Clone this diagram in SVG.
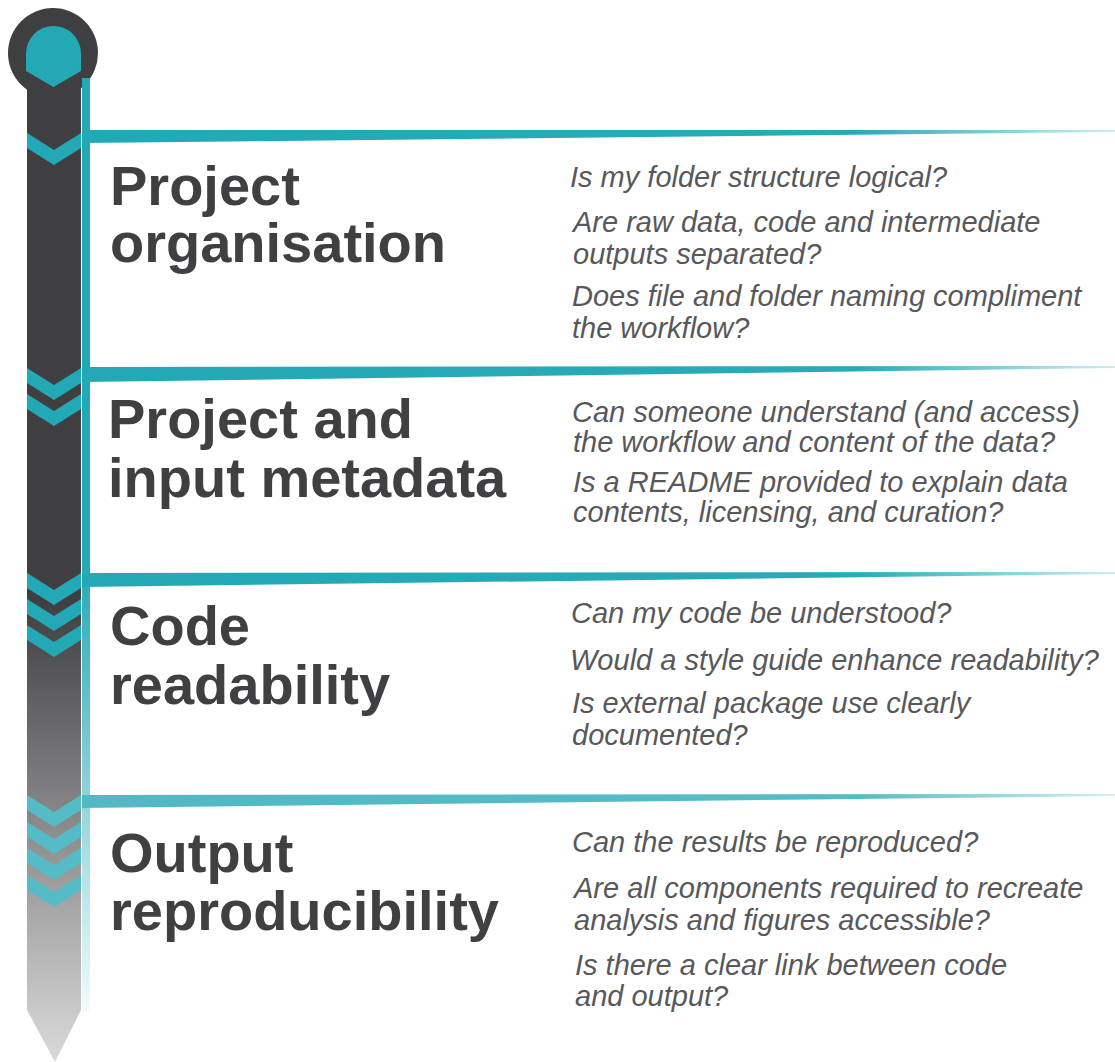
<svg xmlns="http://www.w3.org/2000/svg" width="1115" height="1062" viewBox="0 0 1115 1062">
<style>
.h{font-family:"Liberation Sans",Arial,sans-serif;font-weight:bold;font-size:56px;fill:#404043}
.q{font-family:"Liberation Sans",Arial,sans-serif;font-style:italic;font-size:29px;fill:#58585b}
.chev{fill:#23a8b5}
.chev4{fill:#55bbc6}
</style>
<defs>
<linearGradient id="shaft" gradientUnits="userSpaceOnUse" x1="0" y1="600" x2="0" y2="1062">
<stop offset="0" stop-color="#3f3f42"/>
<stop offset="1" stop-color="#dadada"/>
</linearGradient>
<linearGradient id="vline" gradientUnits="userSpaceOnUse" x1="0" y1="560" x2="0" y2="1012">
<stop offset="0" stop-color="#23a8b5"/>
<stop offset="1" stop-color="#f2fbfc"/>
</linearGradient>
<linearGradient id="bar" gradientUnits="userSpaceOnUse" x1="82" y1="0" x2="1115" y2="0">
<stop offset="0" stop-color="#23a8b5"/>
<stop offset="0.75" stop-color="#2aaab7"/>
<stop offset="1" stop-color="#cdeef1"/>
</linearGradient>
<linearGradient id="bar4" gradientUnits="userSpaceOnUse" x1="82" y1="0" x2="1115" y2="0">
<stop offset="0" stop-color="#52b9c4"/>
<stop offset="0.75" stop-color="#55bbc6"/>
<stop offset="1" stop-color="#d3f0f3"/>
</linearGradient>
<path id="chevron" d="M27,0 L54,17 L81,0 L81,15 L54,32 L27,15 Z"/>
</defs>
<rect x="0" y="0" width="1115" height="1062" fill="#ffffff"/>
<g id="timeline">
<path d="M27,55 L81,55 L81,1010 L55,1062 L27,1010 Z" fill="url(#shaft)"/>
<circle cx="53" cy="53" r="45" fill="#3f3f42"/>
<path d="M26,71 L26,53.5 A27.5,27.5 0 0 1 81,53.5 L81,71 L53.5,87 Z" fill="#23a8b5"/>
<rect x="82" y="78" width="8" height="934" fill="url(#vline)"/>
</g>
<g id="connectors">
<polygon points="82,130 1115,130 1115,132 82,143" fill="url(#bar)"/>
<polygon points="82,367 1115,366 1115,368 82,382" fill="url(#bar)"/>
<polygon points="82,573 1115,572 1115,574 82,587" fill="url(#bar)"/>
<polygon points="82,795 1115,794 1115,796 82,808" fill="url(#bar4)"/>
</g>
<g id="section-1">
<use href="#chevron" class="chev" y="133"/>
<text class="h" x="110" y="205">Project</text>
<text class="h" x="110" y="262">organisation</text>
<text class="q" x="570" y="187">Is my folder structure logical?</text>
<text class="q" x="573" y="232">Are raw data, code and intermediate</text>
<text class="q" x="573" y="264">outputs separated?</text>
<text class="q" x="572" y="306">Does file and folder naming compliment</text>
<text class="q" x="572" y="338">the workflow?</text>
</g>
<g id="section-2">
<use href="#chevron" class="chev" y="368"/>
<use href="#chevron" class="chev" y="394"/>
<text class="h" x="108" y="438">Project and</text>
<text class="h" x="108" y="497">input metadata</text>
<text class="q" x="572" y="422">Can someone understand (and access)</text>
<text class="q" x="573" y="452">the workflow and content of the data?</text>
<text class="q" x="573" y="492">Is a README provided to explain data</text>
<text class="q" x="573" y="522">contents, licensing, and curation?</text>
</g>
<g id="section-3">
<use href="#chevron" class="chev" y="573"/>
<use href="#chevron" class="chev" y="599"/>
<use href="#chevron" class="chev" y="625"/>
<text class="h" x="110" y="645">Code</text>
<text class="h" x="110" y="704">readability</text>
<text class="q" x="571" y="623">Can my code be understood?</text>
<text class="q" x="570" y="670">Would a style guide enhance readability?</text>
<text class="q" x="572" y="713">Is external package use clearly</text>
<text class="q" x="572" y="745">documented?</text>
</g>
<g id="section-4">
<use href="#chevron" class="chev4" y="795"/>
<use href="#chevron" class="chev4" y="822"/>
<use href="#chevron" class="chev4" y="848"/>
<use href="#chevron" class="chev4" y="875"/>
<text class="h" x="110" y="872">Output</text>
<text class="h" x="110" y="930">reproducibility</text>
<text class="q" x="572" y="852">Can the results be reproduced?</text>
<text class="q" x="574" y="898">Are all components required to recreate</text>
<text class="q" x="574" y="930">analysis and figures accessible?</text>
<text class="q" x="575" y="975">Is there a clear link between code</text>
<text class="q" x="575" y="1006">and output?</text>
</g>
</svg>
